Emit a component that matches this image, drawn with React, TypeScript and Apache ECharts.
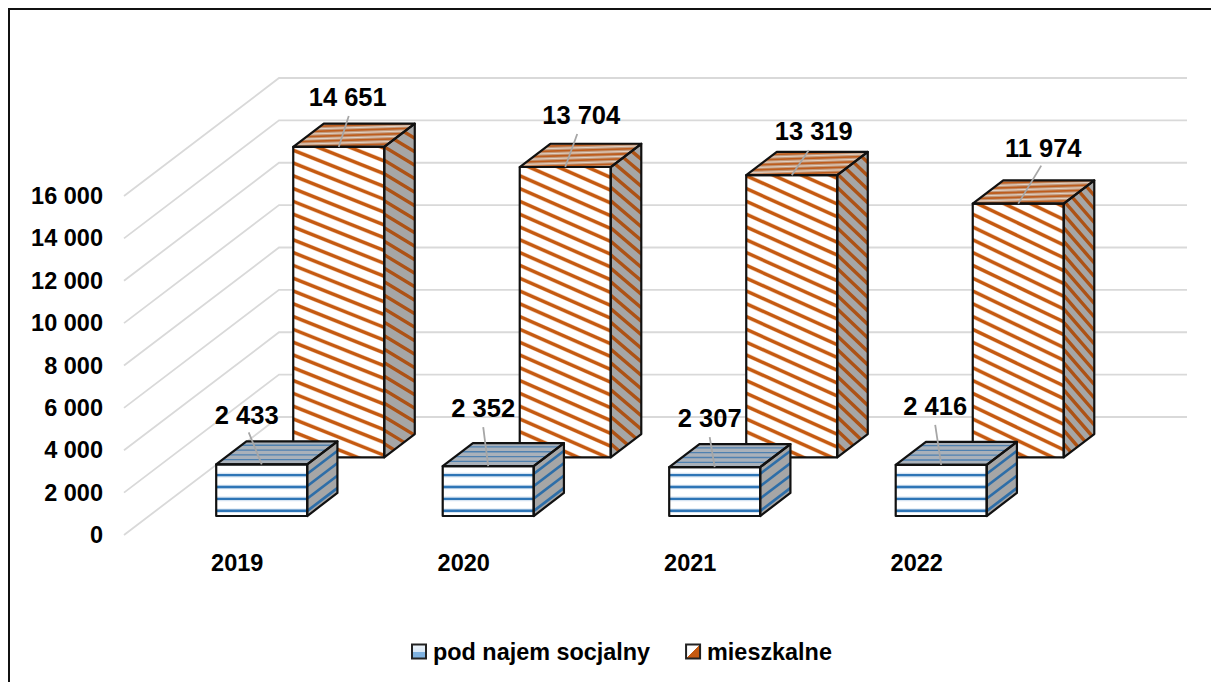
import React, { useEffect, useRef } from "react";
import * as echarts from "echarts";

const years = ["2019", "2020", "2021", "2022"];
const socjalnyValues = [2433, 2352, 2307, 2416];
const mieszkalneValues = [14651, 13704, 13319, 11974];
const yTicks = [0, 2000, 4000, 6000, 8000, 10000, 12000, 14000, 16000];
const seriesNames = ["pod najem socjalny", "mieszkalne"];

// Hand-placed data labels, offset from the front face's top centre: [labelX, labelY, leaderX, leaderY]
const socjalnyLabelOffsets = [[-15, -49, -13, -32], [-5, -58, -5, -39], [-5, -49, -5, -30], [-6, -59, -6, -40]];
const mieszkalneLabelOffsets = [[9, -50, 10, -31], [16, -52, 12, -33], [22, -44, 17, -25], [25, -56, 23, -38]];
// The hatch texture is stretched differently on each column
const rearFrontSlopes = [0.4, 0.44, 0.45, 0.48];
const rearSideSlopes = [0.6, 0.85, 0.95, 1.15];

const FONT = '"Liberation Sans", Arial, sans-serif';
const WALL_DX = 155;
const WALL_DY = -118;
const WALL_EXTRA = 2;
const BAR_RATIO = 0.4;
const BAR_SHIFT = -0.5;
const FRONT_Z = [0.161, 0.356];
const REAR_Z = [0.658, 0.855];

type P = number[];

function clipConvex(poly: P[], clip: P[]): P[] {
  let area = 0;
  for (let i = 0; i < clip.length; i++) {
    const a = clip[i];
    const b = clip[(i + 1) % clip.length];
    area += a[0] * b[1] - b[0] * a[1];
  }
  const sign = area > 0 ? 1 : -1;
  let out = poly;
  for (let i = 0; i < clip.length; i++) {
    const a = clip[i];
    const b = clip[(i + 1) % clip.length];
    const side = (p: P) => sign * ((b[0] - a[0]) * (p[1] - a[1]) - (b[1] - a[1]) * (p[0] - a[0]));
    const input = out;
    out = [];
    for (let j = 0; j < input.length; j++) {
      const c = input[j];
      const d = input[(j + 1) % input.length];
      const sc = side(c);
      const sd = side(d);
      if (sc >= 0) out.push(c);
      if (sc >= 0 !== sd >= 0) {
        const t = sc / (sc - sd);
        out.push([c[0] + t * (d[0] - c[0]), c[1] + t * (d[1] - c[1])]);
      }
    }
    if (!out.length) return [];
  }
  return out;
}

function stripes(face: P[], slope: number, spacing: number, width: number, color: string, phase = 0) {
  const xs = face.map((p) => p[0]);
  const ys = face.map((p) => p[1]);
  const x0 = Math.min(...xs);
  const x1 = Math.max(...xs);
  const hi = Math.max(...ys);
  const lo = Math.min(...ys);
  const half = (width / 2) * Math.sqrt(1 + slope * slope);
  const start = lo - Math.abs(slope) * (x1 - x0) - spacing;
  const end = hi + Math.abs(slope) * (x1 - x0) + spacing;
  const els: any[] = [];
  const anchor = hi - phase;
  const firstK = Math.floor((start - anchor) / spacing);
  const lastK = Math.ceil((end - anchor) / spacing);
  for (let k = firstK; k <= lastK; k++) {
    const c = anchor + k * spacing;
    const y0 = c;
    const y1 = c + slope * (x1 - x0);
    const quad = [
      [x0, y0 - half],
      [x1, y1 - half],
      [x1, y1 + half],
      [x0, y0 + half],
    ];
    const pts = clipConvex(quad, face);
    if (pts.length > 2) {
      els.push({ type: "polygon", silent: true, shape: { points: pts }, style: { fill: color } });
    }
  }
  return els;
}

function poly(points: P[], fill: string) {
  return { type: "polygon", silent: true, shape: { points }, style: { fill } };
}

function outline(points: P[]) {
  return {
    type: "polygon",
    silent: true,
    shape: { points },
    style: { fill: "none", stroke: "#111111", lineWidth: 2.2, lineJoin: "round" },
  };
}

function fmt(v: number) {
  return String(v).replace(/\B(?=(\d{3})+(?!\d))/g, " ");
}

function barBox(params: any, api: any, zr: number[]) {
  const idx = api.value(0);
  const val = api.value(1);
  const base = api.coord([idx, 0]);
  const top = api.coord([idx, val]);
  const w = 91;
  const dx = WALL_DX * zr[0];
  const dy = WALL_DY * zr[0];
  const ddx = WALL_DX * (zr[1] - zr[0]);
  const ddy = WALL_DY * (zr[1] - zr[0]);
  const l = base[0] - w / 2 + dx + BAR_SHIFT;
  const r = l + w;
  const b = base[1] + dy;
  const t = top[1] + dy;
  return { idx, val, l, r, b, t, ddx, ddy };
}

function labelEls(box: any, off: number[]) {
  const cx = (box.l + box.r) / 2;
  return [
    {
      type: "line",
      silent: true,
      shape: { x1: cx, y1: box.t, x2: cx + off[2], y2: box.t + off[3] },
      style: { stroke: "#a6a6a6", lineWidth: 1.8 },
    },
    {
      type: "text",
      silent: true,
      style: {
        x: cx + off[0],
        y: box.t + off[1],
        text: fmt(box.val),
        fill: "#000000",
        font: `bold 25.5px ${FONT}`,
        align: "center",
        verticalAlign: "middle",
      },
    },
  ];
}

function faces(box: any) {
  const { l, r, b, t, ddx, ddy } = box;
  return {
    front: [[l, t], [r, t], [r, b], [l, b]],
    side: [[r, t], [r + ddx, t + ddy], [r + ddx, b + ddy], [r, b]],
    top: [[l, t], [l + ddx, t + ddy], [r + ddx, t + ddy], [r, t]],
  };
}

function renderRear(params: any, api: any) {
  const box = barBox(params, api, REAR_Z);
  const f = faces(box);
  const fs = rearFrontSlopes[box.idx];
  const children: any[] = [
    poly(f.front, "#ffffff"),
    ...stripes(f.front, fs, 12.8, 4.4, "#f3cdb2"),
    ...stripes(f.front, fs, 12.8, 3.2, "#c55a11"),
    poly(f.side, "#a6a6a6"),
    ...stripes(f.side, rearSideSlopes[box.idx], 13.5, 3.4, "#ad5215"),
    poly(f.top, "#c49a7c"),
    ...stripes(f.top, -0.03, 5, 1, "#e3d3c6", 2.5),
    ...stripes(f.top, -0.03, 5, 1.7, "#bd5d1e"),
    outline(f.front),
    outline(f.side),
    outline(f.top),
    ...labelEls(box, mieszkalneLabelOffsets[box.idx]),
  ];
  return { type: "group", children };
}

function renderFront(params: any, api: any) {
  const box = barBox(params, api, FRONT_Z);
  const f = faces(box);
  const sideSlope = box.ddy / box.ddx;
  const children: any[] = [
    poly(f.front, "#ffffff"),
    ...stripes(f.front, 0, 11.9, 4.6, "#d6e4f2", 5.2),
    ...stripes(f.front, 0, 11.9, 2.4, "#2e75b6", 5.2),
    poly(f.side, "#a6a6a6"),
    ...stripes(f.side, sideSlope, 12.4, 2.6, "#2e6ea8", 5),
    poly(f.top, "#a9b1ba"),
    ...stripes(f.top, 0, 4.8, 1.3, "#4f81b0"),
    outline(f.front),
    outline(f.side),
    outline(f.top),
    ...labelEls(box, socjalnyLabelOffsets[box.idx]),
  ];
  return { type: "group", children };
}

function renderWall(params: any, api: any) {
  const cs = params.coordSys;
  const y = api.coord([0, api.value(1)])[1];
  return {
    type: "polyline",
    silent: true,
    shape: {
      points: [
        [cs.x, y],
        [cs.x + WALL_DX, y + WALL_DY],
        [cs.x + cs.width + WALL_DX + WALL_EXTRA, y + WALL_DY],
      ],
    },
    style: { fill: "none", stroke: "#d9d9d9", lineWidth: 1.8 },
  };
}

const option: any = {
  animation: false,
  backgroundColor: "#ffffff",
  tooltip: { show: false },
  grid: { left: 124, top: 196, width: 906, height: 339 },
  xAxis: {
    type: "category",
    data: years,
    axisLine: { show: false },
    axisTick: { show: false },
    axisLabel: { margin: 16, color: "#000000", fontFamily: FONT, fontWeight: "bold", fontSize: 23.5 },
  },
  yAxis: {
    type: "value",
    min: 0,
    max: 16000,
    interval: 2000,
    splitLine: { show: false },
    axisLine: { show: false },
    axisTick: { show: false },
    axisLabel: {
      margin: 21,
      color: "#000000",
      fontFamily: FONT,
      fontWeight: "bold",
      fontSize: 23.5,
      formatter: (v: number) => fmt(v),
    },
  },
  legend: {
    left: 411,
    top: 640,
    padding: 0,
    itemWidth: 14,
    itemHeight: 14,
    itemGap: 35,
    textStyle: { color: "#000000", fontFamily: FONT, fontWeight: "bold", fontSize: 23.4, padding: [0, 0, 0, 2] },
    data: [
      {
        name: seriesNames[0],
        icon: "rect",
        itemStyle: {
          color: {
            type: "linear", x: 0, y: 0, x2: 0, y2: 1,
            colorStops: [
              { offset: 0, color: "#eef5fb" },
              { offset: 0.5, color: "#dbe9f6" },
              { offset: 0.55, color: "#7fb2e0" },
              { offset: 1, color: "#7fb2e0" },
            ],
          },
          borderColor: "#222222",
          borderWidth: 2,
        },
      },
      {
        name: seriesNames[1],
        icon: "rect",
        itemStyle: {
          color: {
            type: "linear", x: 0, y: 0, x2: 1, y2: 1,
            colorStops: [
              { offset: 0, color: "#ffffff" },
              { offset: 0.5, color: "#ffffff" },
              { offset: 0.5, color: "#c55a11" },
              { offset: 1, color: "#c55a11" },
            ],
          },
          borderColor: "#222222",
          borderWidth: 2,
        },
      },
    ],
  },
  graphic: [
    { type: "line", silent: true, shape: { x1: 8, y1: 9, x2: 1211, y2: 9 }, style: { stroke: "#111111", lineWidth: 2 } },
    { type: "line", silent: true, shape: { x1: 9, y1: 8, x2: 9, y2: 682 }, style: { stroke: "#111111", lineWidth: 2 } },
  ],
  series: [
    {
      type: "custom",
      name: "wall",
      silent: true,
      renderItem: renderWall,
      encode: { x: 0, y: 1 },
      data: yTicks.map((v) => [0, v]),
      z: 1,
    },
    {
      type: "custom",
      name: seriesNames[1],
      silent: true,
      renderItem: renderRear,
      encode: { x: 0, y: 1 },
      data: mieszkalneValues.map((v, i) => [i, v]),
      z: 2,
    },
    {
      type: "custom",
      name: seriesNames[0],
      silent: true,
      renderItem: renderFront,
      encode: { x: 0, y: 1 },
      data: socjalnyValues.map((v, i) => [i, v]),
      z: 3,
    },
  ],
};

export default function App() {
  const ref = useRef<HTMLDivElement>(null);
  useEffect(() => {
    document.body.style.margin = "0";
    const chart = echarts.init(ref.current!, undefined, { renderer: "svg" });
    chart.setOption(option);
    return () => chart.dispose();
  }, []);
  return <div ref={ref} style={{ position: "absolute", left: 0, top: 0, width: 1211, height: 682 }} />;
}
